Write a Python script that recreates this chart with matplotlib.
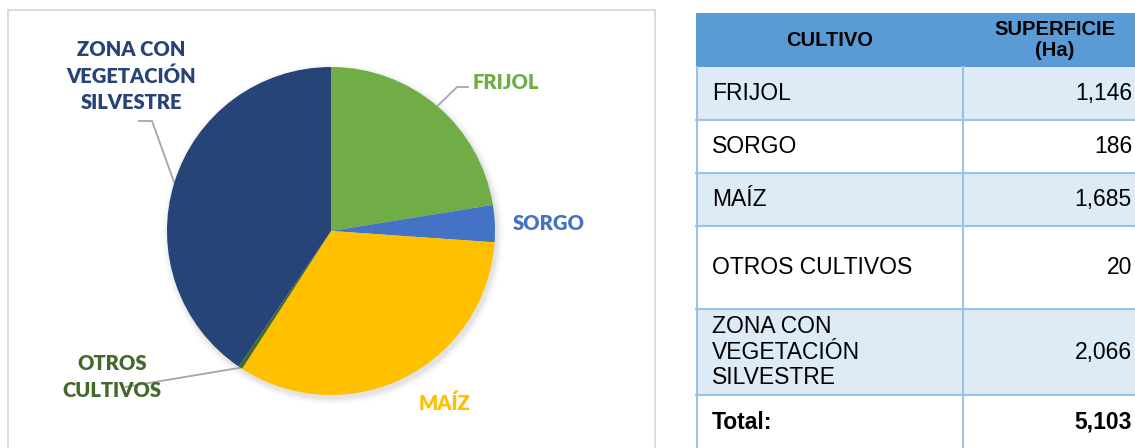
import numpy as np
import matplotlib
matplotlib.use("Agg")
import matplotlib.pyplot as plt
from matplotlib.patches import Rectangle

# ---------------- data ----------------
cultivos = ["FRIJOL", "SORGO", "MAÍZ", "OTROS CULTIVOS", "ZONA CON\nVEGETACIÓN\nSILVESTRE"]
etiquetas_grafico = ["FRIJOL", "SORGO", "MAÍZ", "OTROS\nCULTIVOS", "ZONA CON\nVEGETACIÓN\nSILVESTRE"]
superficie = [1146, 186, 1685, 20, 2066]
encabezados = ["CULTIVO", "SUPERFICIE\n(Ha)"]
total_label = "Total:"
total = sum(superficie)

colores = ["#70AD47", "#4472C4", "#FFC000", "#43682B", "#264478"]
colores_texto = ["#70AD47", "#4472C4", "#FFC000", "#43682B", "#264478"]

W, H = 1135, 448
fig = plt.figure(figsize=(W / 100, H / 100), dpi=100)
ax = fig.add_axes([0, 0, 1, 1])


def Y(y_top):
    return H - y_top

# chart frame
ax.add_patch(Rectangle((8, Y(448 + 5)), 647, 448 + 5 - 10, fill=False,
                       edgecolor="#D9D9D9", lw=1.3, zorder=1))

# ---------------- pie ----------------
cx, cy, r = 331, Y(231), 164
# soft shadow
for i, a in enumerate(np.linspace(0.05, 0.012, 6)):
    ax.add_patch(plt.Circle((cx + 2, cy - 3), r + 1 + i * 1.2, color="black",
                            alpha=a * 0.6, lw=0, zorder=1.5))
wedges, _ = ax.pie(superficie, colors=colores, startangle=90, counterclock=False,
                   center=(cx, cy), radius=r, frame=True,
                   wedgeprops=dict(linewidth=0))
for w in wedges:
    w.set_zorder(2)

# mid-angles for leader lines
mids = [np.deg2rad((w.theta1 + w.theta2) / 2) for w in wedges]

def edge_point(i):
    return cx + r * np.cos(mids[i]), cy + r * np.sin(mids[i])

lab_font = dict(family=["Lato", "DejaVu Sans"], fontweight="heavy", fontsize=14.5)
line_kw = dict(color="#A6A6A6", lw=1.3, zorder=1.8, solid_capstyle="butt")

# FRIJOL
ex, ey = edge_point(0)
ax.plot([ex, 457, 469], [ey, Y(87), Y(87)], **line_kw)
ax.text(473, Y(82), etiquetas_grafico[0], color=colores_texto[0], ha="left", va="center", **lab_font)
# SORGO
ax.text(513, Y(223), etiquetas_grafico[1], color=colores_texto[1], ha="left", va="center", **lab_font)
# MAIZ
ax.text(445, Y(403), etiquetas_grafico[2], color=colores_texto[2], ha="center", va="center", **lab_font)
# OTROS
ex, ey = edge_point(3)
ax.plot([ex, 125], [ey, Y(387)], **line_kw)
ax.text(112, Y(377), etiquetas_grafico[3], color=colores_texto[3], ha="center", va="center",
        linespacing=1.45, zorder=3, **lab_font)
# ZONA
ex, ey = edge_point(4)
ax.plot([ex, 152, 138], [ey, Y(121), Y(121)], **line_kw)
ax.text(131, Y(76), etiquetas_grafico[4], color=colores_texto[4], ha="center", va="center",
        linespacing=1.45, **lab_font)

# ---------------- table ----------------
tx0, tx1, tx2 = 696, 963, W + 5
row_edges = [13, 67, 120, 173, 226, 309, 395, 448 + 10]
fills = ["#DDEBF7", "#FFFFFF", "#DDEBF7", "#FFFFFF", "#DDEBF7", "#FFFFFF"]
grid = "#9BC2E6"
tfont = dict(family=["Liberation Sans", "DejaVu Sans"])

# header
ax.add_patch(Rectangle((tx0, Y(row_edges[1])), tx2 - tx0, row_edges[1] - row_edges[0],
                       facecolor="#5B9BD5", edgecolor="none", zorder=2))
ax.text((tx0 + tx1) / 2, Y(40), encabezados[0], ha="center", va="center",
        fontsize=14.5, fontweight="bold", color="black", zorder=4, **tfont)
ax.text(1055, Y(40), encabezados[1], ha="center", va="center", linespacing=1.15,
        fontsize=14.5, fontweight="bold", color="black", zorder=4, **tfont)

labels_rows = cultivos + [total_label]
values_rows = [f"{v:,}" for v in superficie] + [f"{total:,}"]
for i in range(len(labels_rows)):
    top, bot = row_edges[i + 1], row_edges[i + 2]
    ax.add_patch(Rectangle((tx0, Y(bot)), tx2 - tx0, bot - top,
                           facecolor=fills[i], edgecolor="none", zorder=2))
    ymid = Y((top + bot) / 2) if i < len(labels_rows) - 1 else Y(422)
    bold = "bold" if i == len(labels_rows) - 1 else "normal"
    ax.text(712, ymid, labels_rows[i], ha="left", va="center", fontsize=16.5,
            fontweight=bold, linespacing=1.12, zorder=4, **tfont)
    ax.text(1132, ymid, values_rows[i], ha="right", va="center", fontsize=16.5,
            fontweight=bold, zorder=4, **tfont)

# grid lines
for y in row_edges[2:-1]:
    ax.plot([tx0, tx2], [Y(y), Y(y)], color=grid, lw=1.5, zorder=3)
ax.plot([tx0 + 1, tx0 + 1], [Y(row_edges[1]), Y(H + 5)], color=grid, lw=1.5, zorder=3)
ax.plot([tx1, tx1], [Y(row_edges[1]), Y(H + 5)], color=grid, lw=1.5, zorder=3)

ax.set_xlim(0, W)
ax.set_ylim(0, H)
ax.set_aspect("auto")
ax.axis("off")

fig.savefig("out.png", dpi=100, facecolor="white")
